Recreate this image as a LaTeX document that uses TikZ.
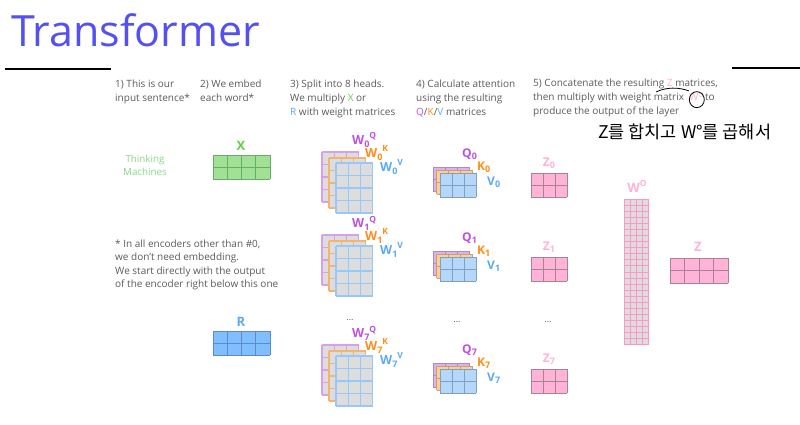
\documentclass[tikz,border=0pt]{standalone}
\usepackage{fontspec}
\setmainfont{Open Sans}
\newfontfamily\krfont{Noto Sans CJK KR}
\definecolor{titleC}{RGB}{85,80,242}
\definecolor{grayT}{RGB}{90,90,90}
\definecolor{purpleT}{RGB}{190,80,225}
\definecolor{orangeT}{RGB}{255,140,20}
\definecolor{blueT}{RGB}{90,170,245}
\definecolor{pinkT}{RGB}{255,178,215}
\definecolor{greenT}{RGB}{100,205,70}
\definecolor{greenL}{RGB}{135,215,135}
\definecolor{xfill}{RGB}{160,225,150}
\definecolor{xline}{RGB}{100,175,100}
\definecolor{rfill}{RGB}{128,190,255}
\definecolor{rline}{RGB}{90,140,200}
\definecolor{wfill}{RGB}{221,221,221}
\definecolor{purpleL}{RGB}{215,160,235}
\definecolor{orangeL}{RGB}{245,180,110}
\definecolor{blueL}{RGB}{150,200,250}
\definecolor{qfill}{RGB}{220,180,235}
\definecolor{qline}{RGB}{170,140,190}
\definecolor{kfill}{RGB}{255,205,150}
\definecolor{kline}{RGB}{200,160,120}
\definecolor{vfill}{RGB}{180,215,250}
\definecolor{vline}{RGB}{130,160,190}
\definecolor{zfill}{RGB}{255,180,215}
\definecolor{zline}{RGB}{170,130,150}
\definecolor{woline}{RGB}{255,150,200}
% x y cols rows cellw cellh fillcolour linestyle
\newcommand\drawmat[8]{%
  \fill[#7] (#1,#2) rectangle ++({#3*#5},{#4*#6});
  \foreach \ii in {0,...,#3}{\draw[#8] ({#1+\ii*#5},#2) -- ++(0,{#4*#6});}
  \foreach \jj in {0,...,#4}{\draw[#8] (#1,{#2+\jj*#6}) -- ++({#3*#5},0);}
}
\newcommand\lsub[1]{\raisebox{-0.2em}{\fontsize{9}{10}\selectfont #1}}
\newcommand\lsup[1]{\raisebox{0.45em}{\fontsize{8.5}{10}\selectfont #1}}
\tikzset{
  txt/.style={font=\fontsize{10}{14}\selectfont, text=grayT, inner sep=0, align=left, anchor=north west},
  line/.style={font=\fontsize{10}{14}\selectfont, text=grayT, inner sep=0, anchor=base west},
  foot/.style={font=\fontsize{10}{13.4}\selectfont, text=grayT, inner sep=0, align=left, anchor=north west},
  wlab/.style={font=\fontsize{12.5}{14}\selectfont\bfseries, inner sep=0, anchor=west},
  qlab/.style={font=\fontsize{12}{14}\selectfont\bfseries, inner sep=0, anchor=west},
  zlab/.style={font=\fontsize{12}{14}\selectfont\bfseries, text=pinkT, inner sep=0},
  dots/.style={font=\fontsize{9}{10}\selectfont, text=grayT, inner sep=0, anchor=base},
  rule/.style={line width=1.8pt, black},
}
\begin{document}
\begin{tikzpicture}[x=1pt,y=-1pt]
\useasboundingbox (0,0) rectangle (800,425);
% title
\node[font=\fontsize{43}{50}\selectfont, text=titleC, inner sep=0, anchor=base west] (title) at (11,47) {Transformer};
\coordinate (l1a) at (5,69); \coordinate (l1b) at (111,69);
\draw[rule] (l1a) -- (l1b);
\coordinate (l2a) at (732,68); \coordinate (l2b) at (800,68);
\draw[rule] (l2a) -- (l2b);
% step texts
\node[txt] (s1) at (115,79.4) {1) This is our\\input sentence*};
\node[txt] (s2) at (200,79.4) {2) We embed\\each word*};
\node[txt] (s3) at (290,79.4) {3) Split into 8 heads.\\We multiply {\color{greenT}X} or\\{\color{blueT}R} with weight matrices};
\node[txt] (s4) at (416,79.4) {4) Calculate attention\\using the resulting\\{\color{purpleT}Q}/{\color{orangeT}K}/{\color{blueT}V} matrices};
\node[line] (s5a) at (533,87) {5) Concatenate the resulting {\color{pinkT}Z} matrices,};
\node[line] (s5b) at (533,101) {then multiply with weight matrix};
\node[line, text=pinkT] (s5w) at (689,101) {W\textsuperscript{O}};
\node[line] (s5c) at (705,101) {to};
\node[line] (s5d) at (533,115) {produce the output of the layer};
% handwritten marks
\coordinate (arcA) at (656,92); \coordinate (arcB) at (689,91);
\draw[black, line width=0.8pt] (arcA) .. controls (666,87) and (679,87) .. (arcB);
\draw[black, line width=0.8pt] ([yshift=-3pt]s5w.center) ellipse [x radius=7.5, y radius=8];
\node[font=\krfont\fontsize{17.5}{20}\selectfont, inner sep=0, anchor=west] (hand) at (598,132) {Z를 합치고 W°를 곱해서};
% input
\node[font=\fontsize{9.8}{13}\selectfont, text=greenL, align=center, inner sep=0] (think) at (145,165) {Thinking\\Machines};
\node[zlab, text=greenT, font=\fontsize{13}{14}\selectfont\bfseries] (xlab) at (241,146) {X};
\drawmat{213}{155}{4}{2}{14.25}{12}{xfill}{xline, line width=0.8pt}
\node[foot] (fn) at (115,239.6) {* In all encoders other than \#0,\\we don’t need embedding.\\We start directly with the output\\of the encoder right below this one};
\node[zlab, text=blueT, font=\fontsize{13}{14}\selectfont\bfseries] (rlab) at (241,322) {R};
\drawmat{213}{331}{4}{2}{14.25}{12}{rfill}{rline, line width=0.8pt}
% weight matrices per head
\foreach \t/\k in {152/0,235/1,345/7}{
  \drawmat{322}{\t}{3}{4}{12.3}{12.5}{wfill}{purpleL, line width=1.1pt}
  \drawmat{329}{\t+6}{3}{4}{12.3}{12.5}{wfill}{orangeL, line width=1.1pt}
  \drawmat{336}{\t+11}{3}{4}{12.3}{12.5}{wfill}{blueL, line width=1.1pt}
  \node[wlab, text=purpleT] (wq\k) at (352,\t-12) {W\lsub{\k}\lsup{Q}};
  \node[wlab, text=orangeT] (wk\k) at (365,\t+1) {W\lsub{\k}\lsup{K}};
  \node[wlab, text=blueT] (wv\k) at (380,\t+15) {W\lsub{\k}\lsup{V}};
}
% Q K V per head
\foreach \s/\k in {167/0,251/1,363/7}{
  \drawmat{433}{\s}{3}{2}{12}{12}{qfill}{qline, line width=0.6pt}
  \drawmat{436.5}{\s+3}{3}{2}{12}{12}{kfill}{kline, line width=0.6pt}
  \drawmat{440}{\s+6}{3}{2}{12}{12}{vfill}{vline, line width=0.6pt}
  \node[qlab, text=purpleT] (q\k) at (462,\s-13) {Q\lsub{\k}};
  \node[qlab, text=orangeT] (k\k) at (477,\s) {K\lsub{\k}};
  \node[qlab, text=blueT] (v\k) at (487,\s+15) {V\lsub{\k}};
}
% Z per head
\foreach \z/\k in {173/0,257/1,369/7}{
  \drawmat{531}{\z}{3}{2}{12}{12}{zfill}{zline, line width=0.7pt}
  \node[zlab] (z\k) at (549,\z-10) {Z\lsub{\k}};
}
\node[dots] (d1) at (350,320) {...};
\node[dots] (d2) at (457,322) {...};
\node[dots] (d3) at (548,322) {...};
% W^O
\node[zlab, font=\fontsize{13}{14}\selectfont\bfseries] (wolab) at (637,186) {W\lsup{O}};
\drawmat{624}{199}{4}{24}{6}{6.08}{wfill}{woline, line width=0.9pt}
% output Z
\node[zlab, font=\fontsize{13}{14}\selectfont\bfseries] (zout) at (698,247) {Z};
\drawmat{670}{258}{4}{2}{14.5}{12.5}{zfill}{zline, line width=0.7pt}
\end{tikzpicture}
\end{document}
